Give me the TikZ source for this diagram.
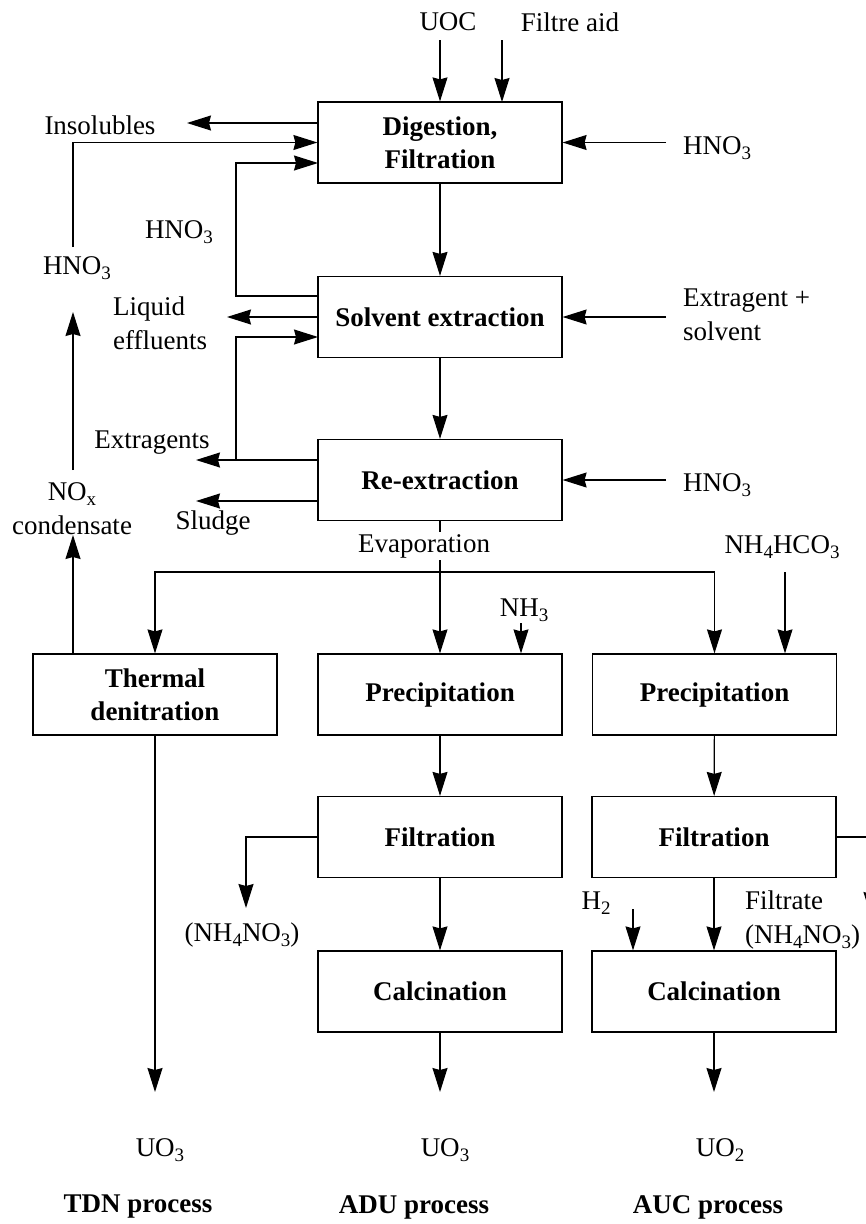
\documentclass[tikz,border=0pt]{standalone}
\usepackage{fontspec}
\setmainfont{Liberation Serif}
\usetikzlibrary{arrows.meta,positioning,calc}
\newcommand{\lowsub}[1]{\raisebox{-0.4ex}{\fontsize{19}{19}\selectfont #1}}
\tikzset{
  >=Latex,
  proc/.style={draw,line width=1.2pt,minimum width=244pt,minimum height=81pt,inner sep=2pt,align=center,font=\bfseries\fontsize{27}{33}\selectfont},
  lab/.style={inner sep=2pt,align=center,font=\fontsize{27}{34}\selectfont},
  hd/.style={lab,font=\bfseries\fontsize{27}{34}\selectfont},
  flow/.style={-{Stealth[length=24pt,width=15pt,inset=2pt]},line width=1.2pt},
  pipe/.style={line width=1.2pt}
}
\begin{document}
\begin{tikzpicture}[x=1pt,y=-1pt]
  \clip (0,0) rectangle (866,1224);
  % process boxes
  \node[proc] (dig) at (440,142.5) {Digestion,\\Filtration};
  \node[proc] (sx) at (440,317) {Solvent extraction};
  \node[proc] (rex) at (440,480) {Re-extraction};
  \node[proc] (tdn) at (155,694.5) {Thermal\\denitration};
  \node[proc] (pa) at (440,694.5) {Precipitation};
  \node[proc] (pb) at (714.5,694.5) {Precipitation};
  \node[proc] (fa) at (440,837) {Filtration};
  \node[proc] (fb) at (714,837) {Filtration};
  \node[proc] (ca) at (440,991.5) {Calcination};
  \node[proc] (cb) at (714,991.5) {Calcination};
  % streams in and out
  \node[lab] (uoc) at (448,22) {UOC};
  \node[lab] (aid) at (570,22) {Filtre aid};
  \node[lab] (ins) at (100,125) {Insolubles};
  \node[lab,anchor=west] (h1) at (681,148) {HNO\lowsub{3}};
  \node[lab] (hnob) at (179,232) {HNO\lowsub{3}};
  \node[lab] (hnoa) at (77,268) {HNO\lowsub{3}};
  \node[lab,anchor=west,align=left] (eff) at (111,323) {Liquid\\effluents};
  \node[lab,anchor=west,align=left] (exs) at (681,315) {Extragent +\\solvent};
  \node[lab] (extr) at (152,443) {Extragents};
  \node[lab,anchor=west] (h3) at (681,485) {HNO\lowsub{3}};
  \node[lab] (nox) at (72,509) {NO\lowsub{x}\\condensate};
  \node[lab] (sludge) at (213,523) {Sludge};
  \node[lab] (evap) at (424,546) {Evaporation};
  \node[lab] (nhc) at (782,547) {NH\lowsub{4}HCO\lowsub{3}};
  \node[lab] (nh3) at (524,610) {NH\lowsub{3}};
  \node[lab] (h2) at (596,903) {H\lowsub{2}};
  \node[lab,anchor=west,align=left] (ftr) at (743,920) {Filtrate\\(NH\lowsub{4}NO\lowsub{3})};
  \node[lab] (nna) at (242,935) {(NH\lowsub{4}NO\lowsub{3})};
  \node[lab] (uo1) at (160,1150) {UO\lowsub{3}};
  \node[lab] (uo2) at (445,1150) {UO\lowsub{3}};
  \node[lab] (uo3) at (720,1150) {UO\lowsub{2}};
  \node[hd] (tdnp) at (138,1207) {TDN process};
  \node[hd] (adup) at (414,1207) {ADU process};
  \node[hd] (aucp) at (708,1207) {AUC process};
  % connector ends
  \coordinate (uoc-s) at (440,40);
  \coordinate (aid-s) at (502,40);
  \coordinate (aid-in) at (502,102);
  \coordinate (ins-tip) at (187,123);
  \coordinate (rin) at (666,0);
  \coordinate (hno-top) at (73,247);
  \coordinate (hno-bot) at (73,312);
  \coordinate (nox-top) at (73,470);
  \coordinate (nox-bot) at (73,535);
  \coordinate (lp) at (236,163);
  \coordinate (dig-in) at (318,163);
  \coordinate (sx-ret) at (318,296);
  \coordinate (sx-in) at (318,337);
  \coordinate (eff-tip) at (227,317);
  \coordinate (rex-o) at (318,460);
  \coordinate (rex-s) at (318,501);
  \coordinate (out-tip) at (196,460);
  \coordinate (split) at (440,572);
  \coordinate (nh3-s) at (521,623);
  \coordinate (nhc-s) at (785,572);
  \coordinate (nna-tip) at (246,908);
  \coordinate (h2-s) at (633,909);
  \coordinate (fb-off) at (871,916);
  \coordinate (prod) at (0,1092);
  % main line
  \draw[flow] (uoc-s) -- (dig.north);
  \draw[flow] (aid-s) -- (aid-in);
  \draw[flow] (dig.west |- ins-tip) -- (ins-tip);
  \draw[flow] (rin |- dig.east) -- (dig.east);
  \draw[flow] (dig) -- (sx);
  \draw[flow] (sx.west) -- (eff-tip);
  \draw[flow] (rin |- sx.east) -- (sx.east);
  \draw[flow] (sx) -- (rex);
  \draw[flow] (rex-o) -- (out-tip);
  \draw[flow] (rex-s) -- (rex-s -| out-tip);
  \draw[flow] (rin |- rex.east) -- (rex.east);
  % recycle loops
  \draw[flow] (sx-ret) -| (lp) -- (dig-in);
  \draw[flow] (lp |- rex-o) |- (sx-in);
  \draw[flow] (hno-top) |- (dig.west);
  \draw[flow] (nox-top) -- (hno-bot);
  \draw[flow] (tdn.north -| nox-bot) -- (nox-bot);
  % evaporation and split
  \draw[pipe] (rex.south) -- (rex.south |- evap.north);
  \draw[pipe] (rex.south |- evap.south) -- (split);
  \draw[flow] (split) -| (tdn.north);
  \draw[flow] (split) -- (pa.north);
  \draw[flow] (split) -| (pb.north);
  \draw[flow] (nh3-s) -- (nh3-s |- pa.north);
  \draw[flow] (nhc-s) -- (nhc-s |- pb.north);
  % ADU and AUC lines
  \draw[flow] (pa) -- (fa);
  \draw[flow] (fa) -- (ca);
  \draw[flow] (fa.west) -| (nna-tip);
  \draw[flow] (pb) -- (fb);
  \draw[flow] (fb) -- (cb);
  \draw[flow] (h2-s) -- (h2-s |- cb.north);
  \draw[flow] (fb.east) -| (fb-off);
  % products
  \draw[flow] (tdn.south) -- (tdn.south |- prod);
  \draw[flow] (ca.south) -- (ca.south |- prod);
  \draw[flow] (cb.south) -- (cb.south |- prod);
\end{tikzpicture}
\end{document}
